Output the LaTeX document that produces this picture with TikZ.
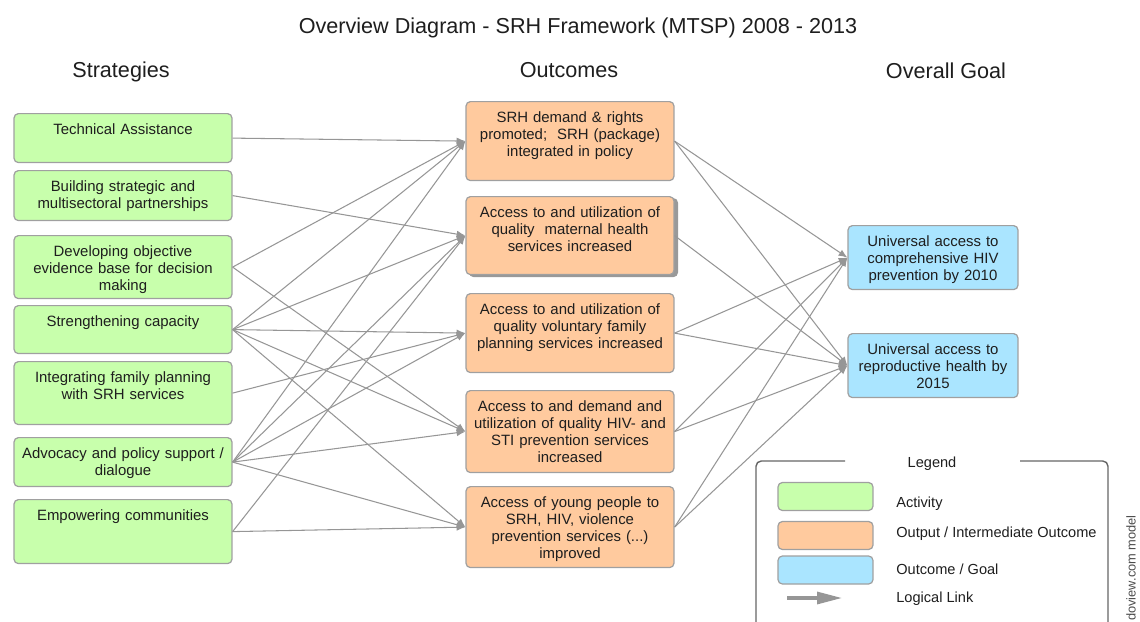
\documentclass[tikz,border=0pt]{standalone}
\usepackage{fontspec}
\setmainfont{Liberation Sans}
\usetikzlibrary{arrows.meta,shadows}

\definecolor{actgreen}{RGB}{200,255,172}
\definecolor{outorange}{RGB}{255,202,158}
\definecolor{goalblue}{RGB}{170,229,255}
\definecolor{boxline}{RGB}{160,160,160}
\definecolor{linkgray}{RGB}{150,150,150}
\definecolor{inkgray}{RGB}{30,30,30}

\tikzstyle{box} = [draw=boxline, line width=0.7pt, rounded corners=2.5pt, anchor=north, align=center, inner xsep=0pt, inner ysep=0pt, text height=0.42cm, text=inkgray, font=\fontsize{8.5}{9.68}\selectfont]
\tikzstyle{strat} = [box, fill=actgreen, text width=4.36cm]
\tikzstyle{outc} = [box, fill=outorange, text width=4.16cm]
\tikzstyle{goal} = [box, fill=goalblue, text width=3.4cm]
\tikzstyle{head} = [anchor=base, text=inkgray, font=\fontsize{12.3}{14}\selectfont]
\tikzstyle{link} = [draw=linkgray, line width=0.6pt, -{Latex[length=5pt,width=4pt]}]
\tikzstyle{swatch} = [draw=boxline, line width=0.7pt, fill=#1, rounded corners=2.5pt, minimum width=1.9cm, minimum height=0.56cm, inner sep=0pt]
\tikzstyle{legtext} = [anchor=base west, inner sep=0pt, text=inkgray, font=\fontsize{8.3}{10}\selectfont]

\begin{document}
\begin{tikzpicture}[x=0.02cm, y=-0.02cm]
  \useasboundingbox (0,0) rectangle (1140,622);

  % headings
  \node (title) at (578,33) [head] {Overview Diagram - SRH Framework (MTSP) 2008 - 2013};
  \node (hstrat) at (121,77) [head] {Strategies};
  \node (houtc) at (569,77) [head] {Outcomes};
  \node (hgoal) at (946,78) [head] {Overall Goal};

  % strategies
  \node (s1) at (123,113) [strat, text depth=0.56cm] {Technical Assistance};
  \node (s2) at (123,170) [strat, text depth=0.58cm] {Building strategic and\\multisectoral partnerships};
  \node (s3) at (123,235) [strat, text depth=0.84cm] {Developing objective\\evidence base for decision\\making};
  \node (s4) at (123,305) [strat, text depth=0.54cm] {Strengthening capacity};
  \node (s5) at (123,361) [strat, text depth=0.84cm] {Integrating family planning\\with SRH services};
  \node (s6) at (123,437) [strat, text depth=0.56cm] {Advocacy and policy support /\\dialogue};
  \node (s7) at (123,499) [strat, text depth=0.86cm] {Empowering communities};

  % outcomes
  \node (o1) at (570,101) [outc, text depth=1.16cm] {SRH demand \& rights\\promoted;~ SRH (package)\\integrated in policy};
  \node (o2) at (570,196) [outc, text depth=1.14cm, copy shadow={shadow xshift=0.07cm, shadow yshift=-0.04cm, fill=black!40, draw=black!40}] {Access to and utilization of\\quality~ maternal health\\services increased};
  \node (o3) at (570,293) [outc, text depth=1.16cm] {Access to and utilization of\\quality voluntary family\\planning services increased};
  \node (o4) at (570,390) [outc, text depth=1.22cm] {Access to and demand and\\utilization of quality HIV- and\\STI prevention services\\increased};
  \node (o5) at (570,486) [outc, text depth=1.20cm] {Access of young people to\\SRH, HIV, violence\\prevention services (...)\\improved};

  % overall goal
  \node (g1) at (933,225) [goal, text depth=0.86cm] {Universal access to\\comprehensive HIV\\prevention by 2010};
  \node (g2) at (933,333) [goal, text depth=0.86cm] {Universal access to\\reproductive health by\\2015};

  % strategies -> outcomes
  \draw [link] (s1.east) to (o1.west);
  \draw [link] (s2.east) to (o2.west);
  \draw [link] (s3.east) to (o1.west);
  \draw [link] (s3.east) to (o4.west);
  \draw [link] (s4.east) to (o1.west);
  \draw [link] (s4.east) to (o2.west);
  \draw [link] (s4.east) to (o3.west);
  \draw [link] (s4.east) to (o4.west);
  \draw [link] (s4.east) to (o5.west);
  \draw [link] (s5.east) to (o3.west);
  \draw [link] (s6.east) to (o1.west);
  \draw [link] (s6.east) to (o2.west);
  \draw [link] (s6.east) to (o3.west);
  \draw [link] (s6.east) to (o4.west);
  \draw [link] (s6.east) to (o5.west);
  \draw [link] (s7.east) to (o2.west);
  \draw [link] (s7.east) to (o5.west);

  % outcomes -> goal
  \draw [link] (o1.east) to (g1.west);
  \draw [link] (o1.east) to (g2.west);
  \draw [link] (o2.east) to (g2.west);
  \draw [link] (o3.east) to (g1.west);
  \draw [link] (o3.east) to (g2.west);
  \draw [link] (o4.east) to (g1.west);
  \draw [link] (o4.east) to (g2.west);
  \draw [link] (o5.east) to (g1.west);
  \draw [link] (o5.east) to (g2.west);

  % legend
  \draw [draw=black!60, line width=0.8pt, rounded corners=3pt] (756,622) -- (756,461) -- (845,461);
  \draw [draw=black!60, line width=0.8pt, rounded corners=3pt] (1020,461) -- (1108,461) -- (1108,622);
  \node (legend) at (932,467) [legtext, anchor=base] {Legend};
  \node (swact) at (825.5,496.5) [swatch=actgreen] {};
  \node (swout) at (825.5,535.5) [swatch=outorange] {};
  \node (swgoal) at (825.5,570) [swatch=goalblue] {};
  \coordinate (la) at (787,598);
  \coordinate (lb) at (842,598);
  \draw [draw=linkgray, line width=1.8pt, -{Triangle[length=0.5cm,width=0.24cm]}] (la) -- (lb);
  \node (lact) at (896,507) [legtext] {Activity};
  \node (lout) at (896,537) [legtext] {Output / Intermediate Outcome};
  \node (lgoal) at (896,574) [legtext] {Outcome / Goal};
  \node (llink) at (896,602) [legtext] {Logical Link};

  \node (credit) at (1131,568) [rotate=90, text=black!70, font=\fontsize{7.3}{9}\selectfont] {doview.com model};
\end{tikzpicture}
\end{document}
